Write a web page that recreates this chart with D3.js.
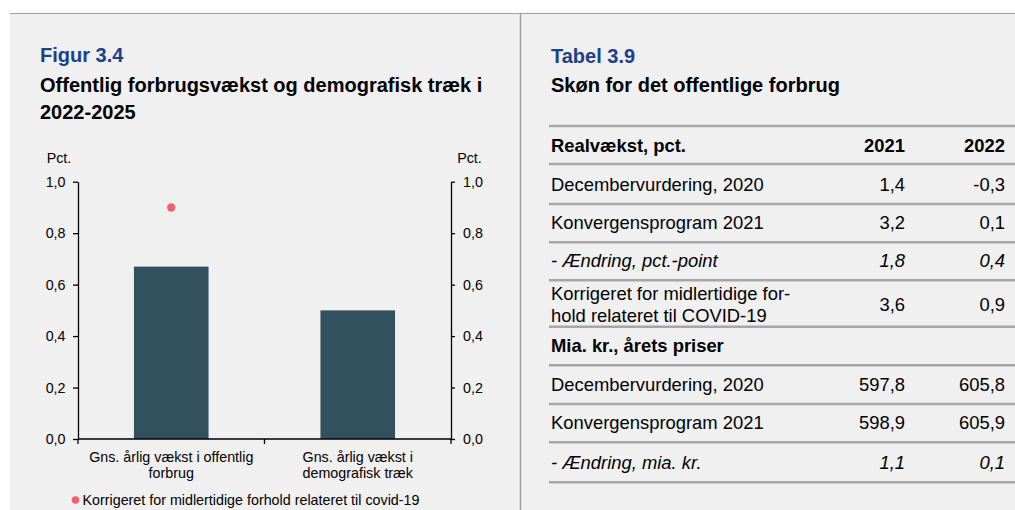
<!DOCTYPE html>
<html lang="da">
<head>
<meta charset="utf-8">
<script src="https://cdn.jsdelivr.net/npm/d3@7"></script>
<style>
  html, body { margin: 0; padding: 0; background: #fff; }
  svg { display: block; font-family: "Liberation Sans", Arial, sans-serif; }
</style>
</head>
<body>
<svg id="page" width="1015" height="510"></svg>
<script>
// ---- Figur 3.4 data ----
const categories = ["offentligt", "demografi"];
const categoryLabels = [
  ["Gns. årlig vækst i offentlig", "forbrug"],
  ["Gns. årlig vækst i", "demografisk træk"]
];
const barValues = [0.67, 0.50];           // gns. årlig vækst, pct.
const covidValues = [0.90, null];         // korrigeret for covid-19
const yTicks = [0, 0.2, 0.4, 0.6, 0.8, 1.0];
const legendLabel = "Korrigeret for midlertidige forhold relateret til covid-19";

// ---- Tabel 3.9 data ----
const tableYears = ["2021", "2022"];
const realRows = ["Decembervurdering, 2020", "Konvergensprogram 2021", "- Ændring, pct.-point"];
const real2021 = ["1,4", "3,2", "1,8"];
const real2022 = ["-0,3", "0,1", "0,4"];
const covidRowLines = ["Korrigeret for midlertidige for-", "hold relateret til COVID-19"];
const covid2021 = "3,6";
const covid2022 = "0,9";
const nominalRows = ["Decembervurdering, 2020", "Konvergensprogram 2021", "- Ændring, mia. kr."];
const nominal2021 = ["597,8", "598,9", "1,1"];
const nominal2022 = ["605,8", "605,9", "0,1"];

const svg = d3.select("#page");
const bg = "#f0f0f0";
const ruleGrey = "#a6a6a6";
const titleBlue = "#1b418a";
const barColor = "#33505f";
const dotColor = "#ef626b";
const chartFont = 14.3;
const titleFont = 20;

// Panels
svg.append("rect").attr("x", 10).attr("y", 13).attr("width", 510).attr("height", 497).attr("fill", bg);
svg.append("rect").attr("x", 520).attr("y", 13).attr("width", 495).attr("height", 497).attr("fill", bg);
svg.append("line").attr("x1", 10).attr("x2", 1015).attr("y1", 13.5).attr("y2", 13.5)
  .attr("stroke", "#a0a0a0").attr("stroke-width", 1);
svg.append("line").attr("x1", 520.5).attr("x2", 520.5).attr("y1", 13).attr("y2", 510)
  .attr("stroke", "#a0a0a0").attr("stroke-width", 1.5);

// ---- Figure titles ----
const figTitle = svg.append("g");
figTitle.append("text").attr("x", 40).attr("y", 62).attr("fill", titleBlue)
  .attr("font-weight", "bold").attr("font-size", titleFont).text("Figur 3.4");
figTitle.append("text").attr("x", 40).attr("y", 91.5).attr("fill", "#000")
  .attr("font-weight", "bold").attr("font-size", titleFont).text("Offentlig forbrugsvækst og demografisk træk i");
figTitle.append("text").attr("x", 40).attr("y", 118.5).attr("fill", "#000")
  .attr("font-weight", "bold").attr("font-size", titleFont).text("2022-2025");

// ---- Chart ----
const plot = { left: 78, right: 451, top: 181.7, bottom: 439 };
const x = d3.scaleBand().domain(categories).range([plot.left, plot.right])
  .paddingInner(0.6).paddingOuter(0.3);
const y = d3.scaleLinear().domain([0, 1]).range([plot.bottom, plot.top]);
const fmt = d => d.toFixed(1).replace(".", ",");

const chart = svg.append("g");

chart.selectAll("rect.bar").data(barValues).enter().append("rect")
  .attr("class", "bar")
  .attr("x", (d, i) => x(categories[i]))
  .attr("width", x.bandwidth())
  .attr("y", d => y(d))
  .attr("height", d => y(0) - y(d))
  .attr("fill", barColor);

chart.selectAll("circle.covid").data(covidValues.map((v, i) => ({ v, i })).filter(d => d.v !== null))
  .enter().append("circle")
  .attr("class", "covid")
  .attr("cx", d => x(categories[d.i]) + x.bandwidth() / 2)
  .attr("cy", d => y(d.v))
  .attr("r", 4.2)
  .attr("fill", dotColor);

function styleAxis(g) {
  g.select(".domain").attr("stroke", "#000").attr("stroke-width", 1.3);
  g.selectAll(".tick line").attr("stroke", "#000").attr("stroke-width", 1.3);
  g.selectAll(".tick text").attr("fill", "#000").attr("font-size", chartFont)
    .attr("font-family", "Liberation Sans, Arial, sans-serif");
}

chart.append("g").attr("transform", `translate(${plot.left},0)`)
  .call(d3.axisLeft(y).tickValues(yTicks).tickFormat(fmt).tickSize(5).tickPadding(7.5).tickSizeOuter(0))
  .call(styleAxis);
chart.append("g").attr("transform", `translate(${plot.right},0)`)
  .call(d3.axisRight(y).tickValues(yTicks).tickFormat(fmt).tickSize(4).tickPadding(8).tickSizeOuter(0))
  .call(styleAxis);

// Category axis: ticks sit on band boundaries
const boundaries = [plot.left,
  (x(categories[0]) + x.bandwidth() + x(categories[1])) / 2,
  plot.right];
const xAxis = chart.append("g");
xAxis.append("line").attr("x1", plot.left).attr("x2", plot.right)
  .attr("y1", y(0)).attr("y2", y(0)).attr("stroke", "#000").attr("stroke-width", 1.3);
xAxis.selectAll("line.tk").data(boundaries).enter().append("line")
  .attr("class", "tk")
  .attr("x1", d => d).attr("x2", d => d)
  .attr("y1", y(0)).attr("y2", y(0) + 5)
  .attr("stroke", "#000").attr("stroke-width", 1.3);
xAxis.selectAll("text.cat").data(categoryLabels).enter().append("text")
  .attr("class", "cat")
  .attr("text-anchor", "middle")
  .attr("font-size", chartFont)
  .attr("fill", "#000")
  .attr("transform", (d, i) => `translate(${x(categories[i]) + x.bandwidth() / 2},${y(0) + 23})`)
  .selectAll("tspan").data(d => d).enter().append("tspan")
  .attr("x", 0).attr("dy", (d, j) => j === 0 ? 0 : 16).text(d => d);

// Unit labels
chart.append("text").attr("x", 59).attr("y", 162.5).attr("text-anchor", "middle")
  .attr("font-size", chartFont).attr("fill", "#000").text("Pct.");
chart.append("text").attr("x", 469.5).attr("y", 162.5).attr("text-anchor", "middle")
  .attr("font-size", chartFont).attr("fill", "#000").text("Pct.");

// Legend
const legend = chart.append("g").attr("transform", "translate(75.5,500)");
legend.append("circle").attr("r", 3.8).attr("fill", dotColor);
legend.append("text").attr("x", 7).attr("y", 4.5).attr("font-size", chartFont).attr("fill", "#000").text(legendLabel);

// ---- Table ----
const tbl = svg.append("g");
const tx = 551, c1 = 905, c2 = 1005, ruleX1 = 549, ruleX2 = 1015;
const tsize = 18.4;

tbl.append("text").attr("x", tx).attr("y", 63).attr("fill", titleBlue)
  .attr("font-weight", "bold").attr("font-size", titleFont).text("Tabel 3.9");
tbl.append("text").attr("x", tx).attr("y", 91.5).attr("fill", "#000")
  .attr("font-weight", "bold").attr("font-size", titleFont).text("Skøn for det offentlige forbrug");

const rules = [126, 164, 204, 242.3, 280.3, 326.8, 365.3, 404, 442.3, 482.3];
tbl.selectAll("line.rule").data(rules).enter().append("line")
  .attr("class", "rule")
  .attr("x1", ruleX1).attr("x2", ruleX2)
  .attr("y1", d => d).attr("y2", d => d)
  .attr("stroke", ruleGrey).attr("stroke-width", 2.6);

function cell(txt, xPos, yPos, opts = {}) {
  tbl.append("text").attr("x", xPos).attr("y", yPos)
    .attr("font-size", tsize).attr("fill", "#000")
    .attr("text-anchor", opts.anchor || "start")
    .attr("font-weight", opts.bold ? "bold" : "normal")
    .attr("font-style", opts.italic ? "italic" : "normal")
    .text(txt);
}

// Header
cell("Realvækst, pct.", tx, 151.5, { bold: true });
tableYears.forEach((yr, i) => cell(yr, i === 0 ? c1 : c2, 151.5, { bold: true, anchor: "end" }));

// Real growth rows
const realBase = [191, 229.3, 267.3];
realRows.forEach((lab, i) => {
  const it = i === realRows.length - 1;
  cell(lab, tx, realBase[i], { italic: it });
  cell(real2021[i], c1, realBase[i], { italic: it, anchor: "end" });
  cell(real2022[i], c2, realBase[i], { italic: it, anchor: "end" });
});

// COVID-corrected row (two lines)
cell(covidRowLines[0], tx, 299.5);
cell(covidRowLines[1], tx, 322);
cell(covid2021, c1, 311, { anchor: "end" });
cell(covid2022, c2, 311, { anchor: "end" });

// Nominal header and rows
cell("Mia. kr., årets priser", tx, 352, { bold: true });
const nomBase = [391, 429.3, 469];
nominalRows.forEach((lab, i) => {
  const it = i === nominalRows.length - 1;
  cell(lab, tx, nomBase[i], { italic: it });
  cell(nominal2021[i], c1, nomBase[i], { italic: it, anchor: "end" });
  cell(nominal2022[i], c2, nomBase[i], { italic: it, anchor: "end" });
});
</script>
</body>
</html>
